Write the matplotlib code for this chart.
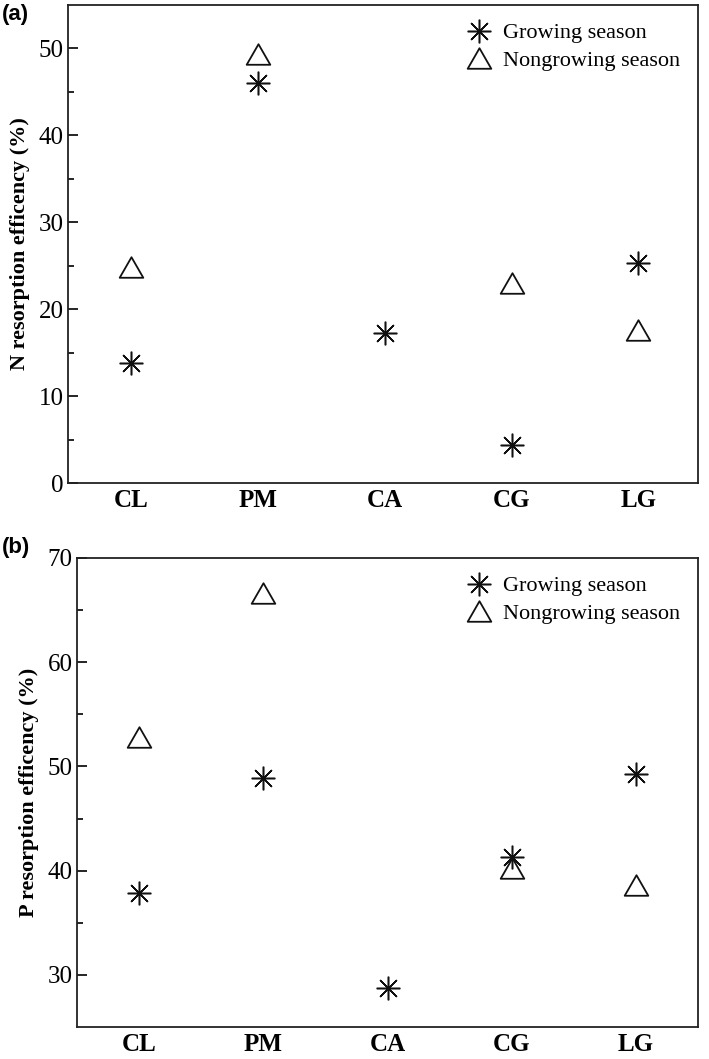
import matplotlib as mpl
import matplotlib.pyplot as plt
import numpy as np
from matplotlib.path import Path as MPath

mpl.rcParams['font.family'] = ['Liberation Serif', 'DejaVu Serif']
mpl.rcParams['axes.unicode_minus'] = False

sites = ['CL', 'PM', 'CA', 'CG', 'LG']

# N resorption efficiency (%)
n_growing = [13.8, 46.0, 17.3, 4.4, 25.3]
n_nongrowing = [24.8, 49.4, np.nan, 23.0, 17.6]

# P resorption efficiency (%)
p_growing = [37.9, 48.9, 28.7, 41.3, 49.3]
p_nongrowing = [52.8, 66.6, np.nan, 40.3, 38.6]

STAR = (8, 2, 0)
TRI = MPath([(0, 0.87), (-1, -0.87), (1, -0.87), (0, 0.87)],
            [MPath.MOVETO, MPath.LINETO, MPath.LINETO, MPath.CLOSEPOLY])


def draw_panel(ax, grow, nongrow, ylim, major, minor, ylabel):
    x = np.arange(1, len(sites) + 1)
    ax.plot(x, grow, linestyle='none', marker=STAR, markersize=17,
            markeredgewidth=1.1, color='#111111', label='Growing season')
    ax.plot(x, nongrow, linestyle='none', marker=TRI, markersize=17,
            markeredgewidth=1.3, markerfacecolor='none', markeredgecolor='#111111',
            label='Nongrowing season')

    ax.set_xlim(0.5, 5.47)
    ax.set_ylim(*ylim)
    ax.set_xticks(x)
    ax.set_xticklabels(sites, fontsize=18, fontweight='bold')
    ax.set_yticks(major)
    ax.set_yticks(minor, minor=True)
    ax.tick_params(axis='y', which='major', direction='in', length=7, width=1.2,
                   labelsize=18, pad=3)
    ax.tick_params(axis='y', which='minor', direction='in', length=4, width=1.2)
    ax.tick_params(axis='x', length=0, pad=4)
    ax.set_ylabel(ylabel, fontsize=16, fontweight='bold', labelpad=6)
    for s in ax.spines.values():
        s.set_linewidth(1.3)
        s.set_color('#222222')

    ax.legend(loc='upper right', frameon=False, fontsize=16, handletextpad=0.6,
              borderaxespad=0.4, labelspacing=0.3, handlelength=1.0,
              bbox_to_anchor=(1.0, 1.0))


fig = plt.figure(figsize=(7.09, 10.59), dpi=100)

ax1 = fig.add_axes([0.0959, 0.5439, 0.8886, 0.4514])
draw_panel(ax1, n_growing, n_nongrowing, (0, 55),
           [0, 10, 20, 30, 40, 50], [5, 15, 25, 35, 45],
           'N resorption efficency (%)')

ax2 = fig.add_axes([0.1086, 0.0302, 0.8759, 0.4429])
draw_panel(ax2, p_growing, p_nongrowing, (25, 70),
           [30, 40, 50, 60, 70], [35, 45, 55, 65],
           'P resorption efficency (%)')
ax2.set_xlim(0.5, 5.5)

fig.text(0.003, 0.986, '(a)', fontsize=16, fontweight='bold',
         family=['Liberation Sans', 'DejaVu Sans'], va='center')
fig.text(0.003, 0.483, '(b)', fontsize=16, fontweight='bold',
         family=['Liberation Sans', 'DejaVu Sans'], va='center')

fig.savefig('out.png', dpi=100)
